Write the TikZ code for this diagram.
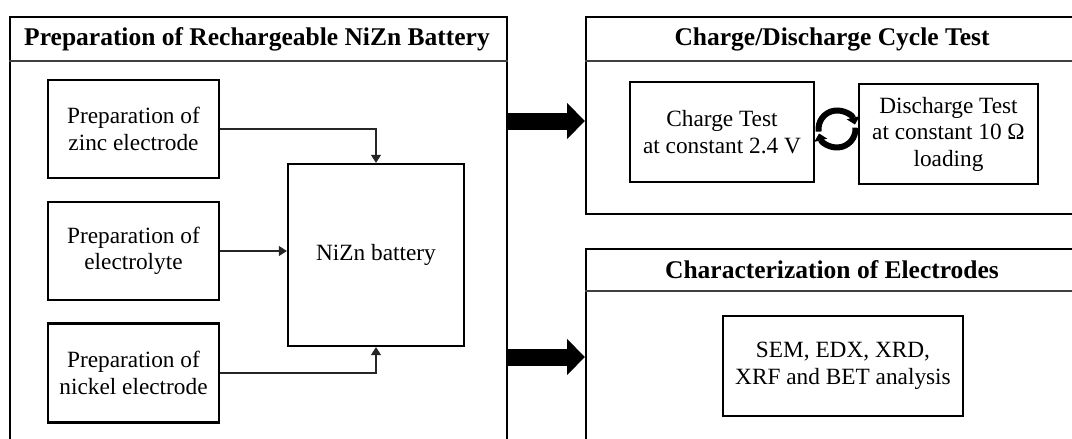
\documentclass[tikz,border=0pt]{standalone}
\usepackage{fontspec}
\setmainfont{Liberation Serif}
\usetikzlibrary{arrows.meta,shadows,calc}
\begin{document}
\begin{tikzpicture}[x=1pt,y=-1pt,
  panel/.style={draw=black, line width=2.4pt, rectangle, inner sep=0pt, anchor=north west, fill=white,
    drop shadow={shadow xshift=1pt, shadow yshift=-1pt, fill=black!60, opacity=1}},
  hdr/.style={draw=black!75, line width=1.6pt},
  ttl/.style={font=\fontsize{25.5}{29}\selectfont\bfseries, inner sep=0pt},
  box/.style={draw=black, line width=2.3pt, rectangle, fill=white, align=center,
    font=\fontsize{23.3}{26.5}\selectfont, inner sep=0pt,
    drop shadow={shadow xshift=1.2pt, shadow yshift=-1.2pt, fill=black!60, opacity=1}},
  conn/.style={draw=black!85, line width=1.1pt, -{Triangle[length=8pt,width=10pt]}},
  fat/.style={line width=17pt, -{Triangle[length=18pt,width=35pt]}},
  cyc/.style={line width=6pt, -{Triangle[length=7pt,width=13pt]}}
]
\useasboundingbox (0,0) rectangle (1072,439);
\clip (0,0) rectangle (1072,439);

% panels
\node[panel, minimum width=497pt, minimum height=470pt] (lp) at (9,16) {};
\node[panel, minimum width=494pt, minimum height=197pt] (tp) at (585,16) {};
\node[panel, minimum width=494pt, minimum height=260pt] (bp) at (585,248) {};

\draw[hdr] ($(lp.north west)+(0,45)$) -- ($(lp.north east)+(0,45)$);
\draw[hdr] ($(tp.north west)+(0,45)$) -- ($(tp.north east)+(0,45)$);
\draw[hdr] ($(bp.north west)+(0,43)$) -- ($(bp.north east)+(0,43)$);

\node[ttl] (lt) at (257,39) {Preparation of Rechargeable NiZn Battery};
\node[ttl] (tt) at (832,39) {Charge/Discharge Cycle Test};
\node[ttl] (bt) at (832,270) {Characterization of Electrodes};

% left boxes
\node[box, minimum width=171pt, minimum height=98pt] (zinc) at (133.5,129) {Preparation of\\zinc electrode};
\node[box, minimum width=171pt, minimum height=98pt] (elec) at (133.5,251) {Preparation of\\electrolyte};
\node[box, minimum width=171pt, minimum height=99pt] (nick) at (133.5,373) {Preparation of\\nickel electrode};
\node[box, minimum width=176pt, minimum height=182pt] (bat) at (376,255) {NiZn battery};

\draw[conn] (zinc.east) -| (bat.north);
\draw[conn] (elec.east) -- (elec.east -| bat.west);
\draw[conn] (nick.east) -| (bat.south);

% right boxes
\node[box, minimum width=184pt, minimum height=100pt] (chg) at (722,132) {Charge Test\\at constant 2.4 V};
\node[box, minimum width=179pt, minimum height=100pt] (dis) at (948.5,134) {Discharge Test\\at constant 10 Ω\\loading};
\node[box, minimum width=240pt, minimum height=100pt] (sem) at (843,366) {SEM, EDX, XRD,\\XRF and BET analysis};

% cycle symbol
\coordinate (cy) at ($(chg.east)!0.5!(dis.west)+(0.5,-4)$);
\draw[cyc] ($(cy)+(-188:18.5)$) arc[start angle=-188, end angle=-14, radius=18.5];
\draw[cyc] ($(cy)+(-4:18.5)$) arc[start angle=-4, end angle=166, radius=18.5];

% fat arrows
\draw[fat] (lp.east |- 0,121) -- (tp.west |- 0,121);
\draw[fat] (lp.east |- 0,357) -- (bp.west |- 0,357);
\end{tikzpicture}
\end{document}
